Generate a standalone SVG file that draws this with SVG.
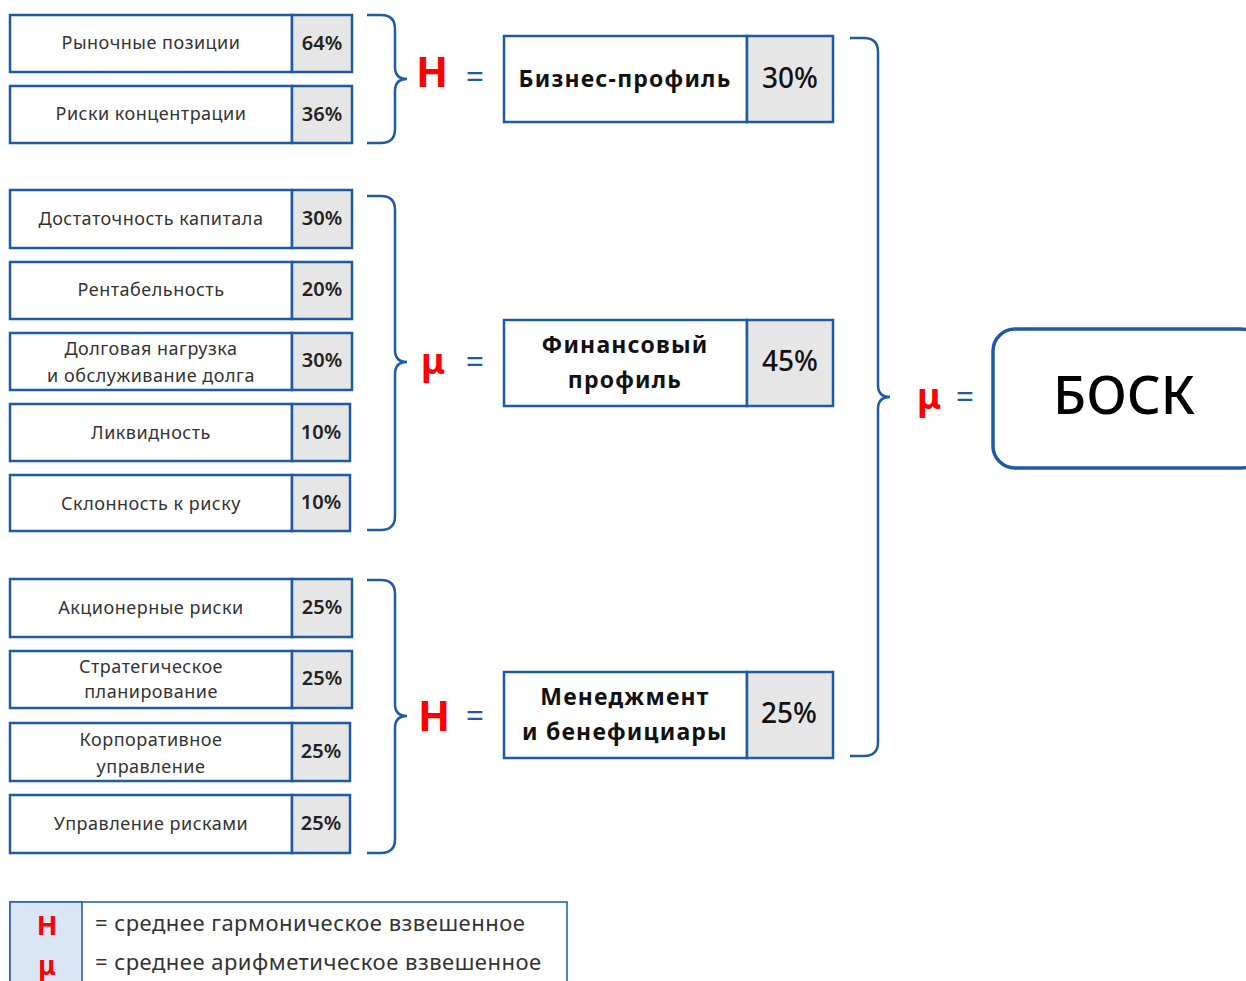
<svg xmlns="http://www.w3.org/2000/svg" width="1246" height="981" viewBox="0 0 1246 981">
<style>
.box{fill:#fff;stroke:#1f5aa6;stroke-width:2.5}
.pct{fill:#e6e6e6;stroke:#1f5aa6;stroke-width:2.5}
.lbl{font-family:"Noto Sans","Open Sans",sans-serif;font-size:18px;fill:#333;text-anchor:middle;letter-spacing:0.5px}
.pv{font-family:"Noto Sans","Open Sans",sans-serif;font-size:20px;font-weight:600;fill:#222;text-anchor:middle}
.big{font-family:"Noto Sans","Open Sans",sans-serif;font-size:23px;font-weight:700;fill:#111;text-anchor:middle;letter-spacing:1.2px}
.bigp{font-family:"Noto Sans","Open Sans",sans-serif;font-size:28px;font-weight:500;fill:#111;text-anchor:middle}
.sym{font-family:"Noto Sans","Open Sans",sans-serif;font-weight:700;fill:#f00;text-anchor:middle}
.eq{font-family:"Noto Sans","Open Sans",sans-serif;font-size:32px;fill:#1f5aa6;text-anchor:middle}
.brace{fill:none;stroke:#1f5aa6;stroke-width:2.5}
.leg{font-family:"Noto Sans","Open Sans",sans-serif;font-size:22px;fill:#333;letter-spacing:0.5px}
</style>

<g id="connectors">
<path class="brace" d="M367 15 H381 Q395 15 395 29 V67 Q395 79 407 79 Q395 79 395 91 V129 Q395 143 381 143 H367"/>
<path class="brace" d="M367 196 H381 Q395 196 395 210 V350 Q395 362 407 362 Q395 362 395 374 V516 Q395 530 381 530 H367"/>
<path class="brace" d="M367 580 H381 Q395 580 395 594 V704 Q395 716 407 716 Q395 716 395 728 V839 Q395 853 381 853 H367"/>
<path class="brace" d="M850 38 H864 Q878 38 878 52 V385 Q878 397 890 397 Q878 397 878 409 V742 Q878 756 864 756 H850"/>
</g>

<g id="n-rynochnye">
<rect class="box" x="10" y="15" width="282" height="57"/><rect class="pct" x="292" y="15" width="60" height="57"/>
<text class="lbl" x="151" y="49">Рыночные позиции</text><text class="pv" x="322" y="50">64%</text>
</g>
<g id="n-riski-konc">
<rect class="box" x="10" y="86" width="282" height="57"/><rect class="pct" x="292" y="86" width="60" height="57"/>
<text class="lbl" x="151" y="120">Риски концентрации</text><text class="pv" x="322" y="121">36%</text>
</g>

<g id="n-dostatochnost">
<rect class="box" x="10" y="190" width="282" height="58"/><rect class="pct" x="292" y="190" width="60" height="58"/>
<text class="lbl" x="151" y="225">Достаточность капитала</text><text class="pv" x="322" y="225">30%</text>
</g>
<g id="n-rentabelnost">
<rect class="box" x="10" y="262" width="282" height="57"/><rect class="pct" x="292" y="262" width="60" height="57"/>
<text class="lbl" x="151" y="296">Рентабельность</text><text class="pv" x="322" y="296">20%</text>
</g>
<g id="n-dolgovaya">
<rect class="box" x="10" y="333" width="282" height="57"/><rect class="pct" x="292" y="333" width="60" height="57"/>
<text class="lbl" x="151" y="355">Долговая нагрузка</text><text class="lbl" x="151" y="382">и обслуживание долга</text><text class="pv" x="322" y="367">30%</text>
</g>
<g id="n-likvidnost">
<rect class="box" x="10" y="404" width="282" height="57"/><rect class="pct" x="292" y="404" width="58" height="57"/>
<text class="lbl" x="151" y="439">Ликвидность</text><text class="pv" x="321" y="439">10%</text>
</g>
<g id="n-sklonnost">
<rect class="box" x="10" y="475" width="282" height="56"/><rect class="pct" x="292" y="475" width="58" height="56"/>
<text class="lbl" x="151" y="510">Склонность к риску</text><text class="pv" x="321" y="509">10%</text>
</g>

<g id="n-akcionernye">
<rect class="box" x="10" y="579" width="282" height="58"/><rect class="pct" x="292" y="579" width="60" height="58"/>
<text class="lbl" x="151" y="614">Акционерные риски</text><text class="pv" x="322" y="614">25%</text>
</g>
<g id="n-strategicheskoe">
<rect class="box" x="10" y="651" width="282" height="57"/><rect class="pct" x="292" y="651" width="60" height="57"/>
<text class="lbl" x="151" y="673">Стратегическое</text><text class="lbl" x="151" y="698">планирование</text><text class="pv" x="322" y="685">25%</text>
</g>
<g id="n-korporativnoe">
<rect class="box" x="10" y="723" width="282" height="58"/><rect class="pct" x="292" y="723" width="58" height="58"/>
<text class="lbl" x="151" y="746">Корпоративное</text><text class="lbl" x="151" y="773">управление</text><text class="pv" x="321" y="758">25%</text>
</g>
<g id="n-upravlenie-riskami">
<rect class="box" x="10" y="795" width="282" height="58"/><rect class="pct" x="292" y="795" width="58" height="58"/>
<text class="lbl" x="151" y="830">Управление рисками</text><text class="pv" x="321" y="830">25%</text>
</g>

<g id="n-biznes">
<rect class="box" x="504" y="36" width="243" height="86"/><rect class="pct" x="747" y="36" width="86" height="86"/>
<text class="big" x="625" y="87">Бизнес-профиль</text><text class="bigp" x="790" y="88">30%</text>
</g>
<g id="n-finansovyi">
<rect class="box" x="504" y="320" width="243" height="86"/><rect class="pct" x="747" y="320" width="86" height="86"/>
<text class="big" x="625" y="353">Финансовый</text><text class="big" x="625" y="388">профиль</text><text class="bigp" x="790" y="371">45%</text>
</g>
<g id="n-menedzhment">
<rect class="box" x="504" y="672" width="243" height="86"/><rect class="pct" x="747" y="672" width="86" height="86"/>
<text class="big" x="625" y="705">Менеджмент</text><text class="big" x="625" y="740">и бенефициары</text><text class="bigp" x="789" y="723">25%</text>
</g>

<g id="n-bosk">
<rect x="993" y="329" width="270" height="139" rx="22" fill="#fff" stroke="#1f5aa6" stroke-width="3.5"/>
<text x="1124" y="414" font-family="'Noto Sans','Open Sans',sans-serif" font-size="53" font-weight="500" fill="#000" text-anchor="middle">БОСК</text>
</g>

<g id="symbols">
<text class="sym" x="432" y="87" font-size="42">H</text><text class="eq" x="475" y="88">=</text>
<text class="sym" x="433" y="374" font-size="36">μ</text><text class="eq" x="475" y="373">=</text>
<text class="sym" x="434" y="731" font-size="42">H</text><text class="eq" x="475" y="727">=</text>
<text class="sym" x="929" y="409" font-size="36">μ</text><text class="eq" x="965" y="408">=</text>
</g>

<g id="legend">
<rect x="10" y="902" width="557" height="100" fill="#fff" stroke="#1f5aa6" stroke-width="1.5"/>
<rect x="10" y="902" width="72" height="100" fill="#dae6f5" stroke="#1f5aa6" stroke-width="1.5"/>
<text class="sym" x="47" y="935" font-size="27">H</text>
<text class="sym" x="47" y="975" font-size="26">μ</text>
<text class="leg" x="95" y="931">= среднее гармоническое взвешенное</text>
<text class="leg" x="95" y="970">= среднее арифметическое взвешенное</text>
</g>
</svg>
